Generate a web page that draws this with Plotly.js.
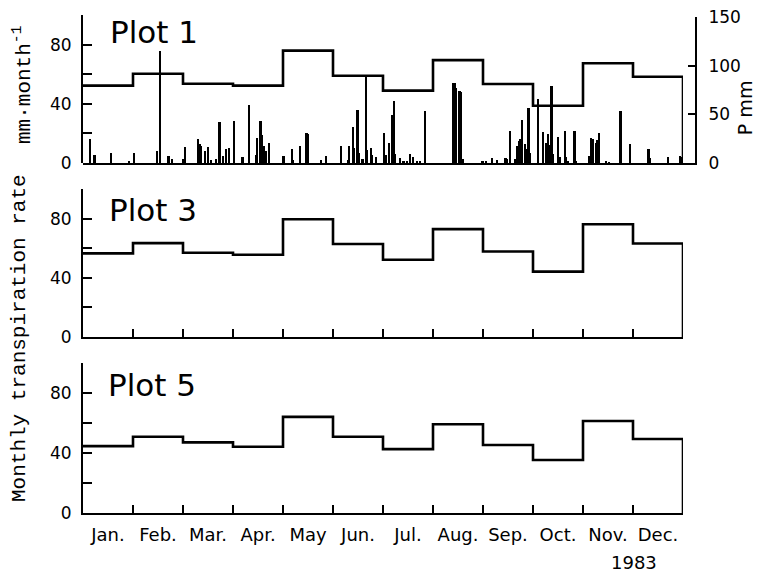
<!DOCTYPE html>
<html>
<head>
<meta charset="utf-8">
<script src="https://cdn.plot.ly/plotly-3.0.1.min.js"></script>
<style>html,body{margin:0;padding:0;background:#fff;}</style>
</head>
<body>
<div id="chart" style="width:757px;height:572px;"></div>
<script>
// ---- data ----
var months = ['Jan.','Feb.','Mar.','Apr.','May','Jun.','Jul.','Aug.','Sep.','Oct.','Nov.','Dec.'];
var plot1ET = [52.3, 60.3, 53.5, 52.3, 75.9, 59.0, 48.9, 69.5, 53.4, 38.7, 67.4, 58.3];
var plot3ET = [56.5, 63.4, 56.9, 55.6, 79.6, 62.8, 52.2, 72.9, 57.8, 44.2, 76.2, 63.2];
var plot5ET = [44.6, 50.8, 47.1, 44.2, 64.1, 50.8, 42.6, 59.2, 45.3, 35.3, 61.3, 49.3];
var precipDay = [4,7,17,28,31,45,47,52,54,61,62,70,71,72,74,76,78,81,83,85,87,89,92,97,101,105,106,108,109,110,111,113,
  122,127,128,132,136,137,145,148,157,161,162,164,165,167,168,170,172,173,175,176,178,
  183,184,186,188,189,190,193,195,197,199,201,203,205,208,225,226,227,229,230,231,
  243,245,249,252,257,258,260,263,264,265,266,267,269,270,271,272,277,280,282,283,284,285,286,289,290,293,294,295,299,300,
  308,309,310,312,313,314,318,320,327,333,344,345,356,363,364];
var precipMM = [25,8,10,2,10,12,115,7,4,4,16,25,20,17,12,16,3,4,42,7,14,15,43,6,60,8,26,43,29,17,12,21,
  7,14,3,17,31,30,3,7,17,3,17,37,15,54,10,4,89,13,15,8,6,
  31,8,21,49,64,9,5,2,2,9,6,2,2,53,82,82,77,74,73,4,
  2,2,5,3,5,4,33,4,17,23,25,44,20,14,57,10,66,32,21,30,18,79,9,27,6,33,6,2,33,2,
  7,26,25,21,24,31,2,1,53,20,14,5,6,7,6];
var leftTickVals = [0,40,80];
var leftTickText = ['0','40','80'];
var leftMinorVals = [20,60,100];
var rightTickVals = [0,50,100,150];
var rightTickText = ['0','50','100','150'];
var panelTitles = ['Plot 1','Plot 3','Plot 5'];

// ---- helpers ----
function stepTrace(vals, xa, ya) {
  var x = [], y = [];
  for (var i = 0; i < vals.length; i++) { x.push(i); y.push(vals[i]); }
  x.push(vals.length); y.push(vals[vals.length-1]);
  x.push(vals.length); y.push(0);
  return {type:'scatter', mode:'lines', x:x, y:y, xaxis:xa, yaxis:ya,
    line:{shape:'hv', color:'#000', width:2.6}, hoverinfo:'skip', showlegend:false};
}
var boundaries = [];
for (var b = 1; b < months.length; b++) boundaries.push(b);
var centers = months.map(function(m, i){ return i + 0.5; });

var tickFont = {family:'DejaVu Sans, sans-serif', size:17, color:'#000'};
var fracX = 600/612;

function leftAxis(domain, xa) {
  return {domain:domain, range:[0,100], anchor:xa, showline:true, linewidth:2, linecolor:'#000',
    ticks:'inside', ticklen:9, tickwidth:2, tickcolor:'#000', tickmode:'array',
    tickvals:leftTickVals, ticktext:leftTickText, showgrid:false, zeroline:false,
    minor:{tickmode:'array', tickvals:leftMinorVals, ticks:'inside', ticklen:9, tickwidth:2, tickcolor:'#000', showgrid:false},
    tickfont:tickFont, ticklabelstandoff:6, fixedrange:true};
}
function monthAxis(ya, withTicks) {
  return {domain:[0, fracX], range:[0,12], anchor:ya, showline:true, linewidth:2, linecolor:'#000',
    ticks: withTicks ? 'inside' : '', ticklen:8, tickwidth:2, tickcolor:'#000', tickmode:'array',
    tickvals: boundaries, showticklabels:false, showgrid:false, zeroline:false, fixedrange:true};
}

var traces = [
  stepTrace(plot1ET, 'x', 'y'),
  {type:'bar', x:precipDay, y:precipMM, xaxis:'x4', yaxis:'y4', width:1.3,
   marker:{color:'#000', line:{width:0}}, hoverinfo:'skip', showlegend:false},
  stepTrace(plot3ET, 'x2', 'y2'),
  stepTrace(plot5ET, 'x3', 'y3'),
  {type:'scatter', mode:'lines', x:[0,12], y:[0,0], xaxis:'x5', yaxis:'y3',
   line:{width:0, color:'rgba(0,0,0,0)'}, hoverinfo:'skip', showlegend:false}
];

var layout = {
  width:757, height:572,
  margin:{l:83, r:62, t:15, b:59, pad:0},
  paper_bgcolor:'#fff', plot_bgcolor:'rgba(0,0,0,0)',
  showlegend:false, bargap:0,
  xaxis: Object.assign(monthAxis('y', false), {showline:false}),
  yaxis: leftAxis([0.7028, 1], 'x'),
  xaxis2: monthAxis('y2', true),
  yaxis2: leftAxis([0.3534, 0.6506], 'x2'),
  xaxis3: monthAxis('y3', true),
  yaxis3: leftAxis([0, 0.3012], 'x3'),
  xaxis4: {domain:[0,1], range:[0, 365/fracX], anchor:'y4', showline:true, linewidth:2, linecolor:'#000',
    ticks:'', showticklabels:false, showgrid:false, zeroline:false, fixedrange:true},
  yaxis4: {domain:[0.7028, 0.996], range:[0,150], anchor:'x4', side:'right', showline:true, linewidth:2,
    linecolor:'#000', ticks:'inside', ticklen:7, tickwidth:2, tickcolor:'#000', tickmode:'array',
    tickvals:rightTickVals, ticktext:rightTickText, showgrid:false, zeroline:false,
    tickfont:tickFont, ticklabelstandoff:8, fixedrange:true},
  xaxis5: {overlaying:'x3', anchor:'y3', range:[0,12], side:'bottom', showline:false, ticks:'',
    tickmode:'array', tickvals:centers, ticktext:months, showgrid:false, zeroline:false,
    tickfont:{family:'DejaVu Sans, sans-serif', size:18, color:'#000'}, ticklabelstandoff:9, fixedrange:true},
  annotations: [
    {text:panelTitles[0], xref:'paper', yref:'paper', x:0.0408, y:0.965, xanchor:'left', yanchor:'middle',
     showarrow:false, font:{family:'DejaVu Sans, sans-serif', size:31, color:'#000'}},
    {text:panelTitles[1], xref:'paper', yref:'paper', x:0.0392, y:0.6084, xanchor:'left', yanchor:'middle',
     showarrow:false, font:{family:'DejaVu Sans, sans-serif', size:31, color:'#000'}},
    {text:panelTitles[2], xref:'paper', yref:'paper', x:0.0376, y:0.257, xanchor:'left', yanchor:'middle',
     showarrow:false, font:{family:'DejaVu Sans, sans-serif', size:31, color:'#000'}},
    {text:'1983', xref:'paper', yref:'paper', x:0.9003, y:-0.0984, xanchor:'center', yanchor:'middle',
     showarrow:false, font:{family:'DejaVu Sans, sans-serif', size:18, color:'#000'}},
    {text:'mm·month<sup>-1</sup>', xref:'paper', yref:'paper', x:-0.0997, y:0.8614, xanchor:'center', yanchor:'middle',
     textangle:-90, showarrow:false, font:{family:'Liberation Mono, monospace', size:21, color:'#000'}},
    {text:'Monthly transpiration rate', xref:'paper', yref:'paper', x:-0.1046, y:0.3514, xanchor:'center', yanchor:'middle',
     textangle:-90, showarrow:false, font:{family:'Liberation Mono, monospace', size:21, color:'#000'}},
    {text:'P mm', xref:'paper', yref:'paper', x:1.0817, y:0.813, xanchor:'center', yanchor:'middle',
     textangle:-90, showarrow:false, font:{family:'DejaVu Sans, sans-serif', size:19, color:'#000'}}
  ]
};

Plotly.newPlot('chart', traces, layout, {staticPlot:true, displayModeBar:false});
</script>
</body>
</html>
